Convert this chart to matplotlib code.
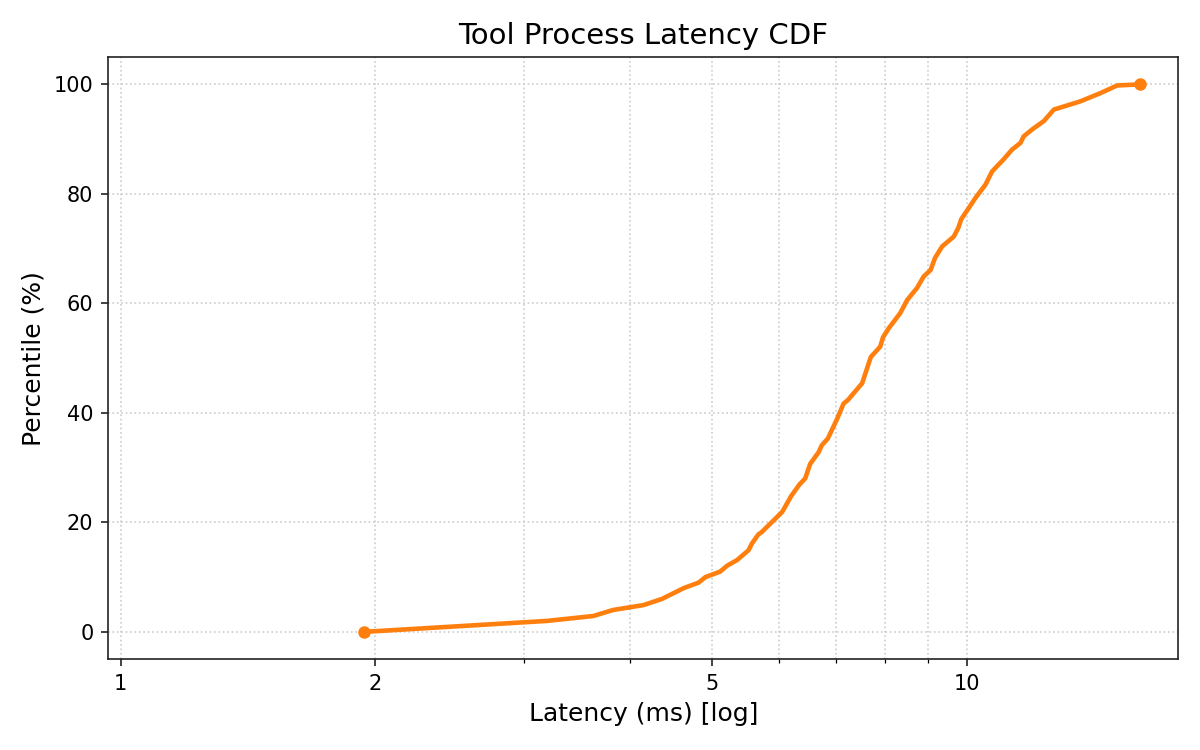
import matplotlib
matplotlib.use("Agg")
import matplotlib.pyplot as plt
from matplotlib.ticker import FixedLocator, NullFormatter, FixedFormatter

# latency samples (ms) and matching percentile
latency_ms = [1.94, 3.19, 3.62, 3.82, 4.15, 4.36, 4.63, 4.82, 4.91, 5.11,
              5.21, 5.35, 5.52, 5.57, 5.67, 5.72, 6.05, 6.20, 6.34, 6.44,
              6.53, 6.68, 6.74, 6.85, 7.03, 7.15, 7.23, 7.52, 7.61, 7.70,
              7.90, 7.96, 8.08, 8.34, 8.50, 8.73, 8.89, 9.06, 9.17, 9.35,
              9.65, 9.77, 9.85, 10.05, 10.23, 10.52, 10.71, 11.05, 11.31, 11.57,
              11.67, 11.95, 12.33, 12.67, 13.62, 14.38, 15.05, 16.01]
percentile = [0.0, 2.0, 2.9, 4.0, 4.9, 6.0, 8.0, 9.0, 10.0, 11.0,
              12.1, 13.1, 14.9, 16.1, 17.8, 18.2, 21.9, 24.8, 26.9, 28.0,
              30.7, 32.8, 34.1, 35.3, 39.0, 41.7, 42.3, 45.4, 47.8, 50.2,
              52.1, 53.8, 55.4, 58.2, 60.6, 62.8, 64.9, 66.1, 68.3, 70.4,
              72.2, 73.8, 75.4, 77.4, 79.2, 81.7, 84.1, 86.3, 88.1, 89.3,
              90.5, 91.8, 93.3, 95.4, 96.9, 98.4, 99.8, 100.0]

major_ticks = [1, 2, 5, 10]
minor_ticks = [3, 4, 6, 7, 8, 9]

fig, ax = plt.subplots(figsize=(8, 5), dpi=150)
fig.subplots_adjust(left=0.09, right=0.982, top=0.924, bottom=0.121)

line_color = "#ff7f0e"
ax.plot(latency_ms, percentile, color=line_color, linewidth=2.2, zorder=3)
ax.plot([latency_ms[0], latency_ms[-1]], [percentile[0], percentile[-1]],
        "o", color=line_color, markersize=5, zorder=4)

ax.set_xscale("log")
ax.set_xlim(0.9665, 17.78)
ax.set_ylim(-5, 105)

ax.xaxis.set_major_locator(FixedLocator(major_ticks))
ax.xaxis.set_major_formatter(FixedFormatter([str(t) for t in major_ticks]))
ax.xaxis.set_minor_locator(FixedLocator(minor_ticks))
ax.xaxis.set_minor_formatter(NullFormatter())

ax.grid(True, which="major", linestyle=":", color="#cccccc", linewidth=0.8)
ax.grid(True, which="minor", axis="x", linestyle=":", color="#cccccc", linewidth=0.8)

for s in ax.spines.values():
    s.set_color("#222222")
ax.tick_params(colors="#222222", labelcolor="black")

ax.set_title("Tool Process Latency CDF", fontsize=14)
ax.set_xlabel("Latency (ms) [log]", fontsize=12)
ax.set_ylabel("Percentile (%)", fontsize=12)

fig.savefig("out.png", dpi=150)
